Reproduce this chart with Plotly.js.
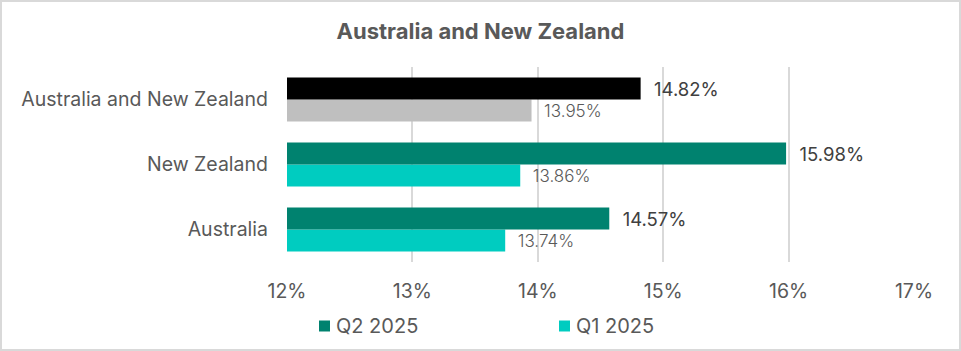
<!DOCTYPE html>
<html><head><meta charset="utf-8">
<script src="https://cdn.plot.ly/plotly-3.0.1.min.js"></script>
<style>
html,body{margin:0;padding:0;background:#fff;}
#wrap{position:relative;width:961px;height:351px;}
#chart{position:absolute;left:0;top:0;width:961px;height:351px;}
#border{position:absolute;left:0;top:0;width:961px;height:351px;box-sizing:border-box;border:2px solid #d9d9d9;pointer-events:none;}
</style></head>
<body><div id="wrap"><div id="chart"></div><div id="border"></div></div>
<script>
const categories = ["Australia", "New Zealand", "Australia and New Zealand"];
const q2Values = [14.57, 15.98, 14.82];
const q1Values = [13.74, 13.86, 13.95];
const q2Colors = ["#00826f", "#00826f", "#000000"];
const q1Colors = ["#00ccc0", "#00ccc0", "#bfbfbf"];
const seriesNames = ["Q2 2025", "Q1 2025"];
const legendColors = ["#00826f", "#00ccc0"];
const tickVals = [12, 13, 14, 15, 16, 17];
const tickText = ["12%", "13%", "14%", "15%", "16%", "17%"];

const font = "Inter, 'Noto Sans', sans-serif";

// plot area in pixels (for legend placement helpers)
const PL = 287, PR = 914, PT = 67, PB = 262;
const px = x => (x - PL) / (PR - PL);
const py = y => (PB - y) / (PB - PT);

const traces = [
  {
    type: "bar", orientation: "h", name: seriesNames[1],
    y: categories, x: q1Values,
    marker: {color: q1Colors},
    text: q1Values.map(v => "  " + v.toFixed(2) + "%"),
    textposition: "outside", cliponaxis: false,
    textfont: {family: font, size: 17, color: "#595959", weight: 300},
    hoverinfo: "none", showlegend: false
  },
  {
    type: "bar", orientation: "h", name: seriesNames[0],
    y: categories, x: q2Values,
    marker: {color: q2Colors},
    text: q2Values.map(v => "  " + v.toFixed(2) + "%"),
    textposition: "outside", cliponaxis: false,
    textfont: {family: font, size: 18.5, color: "#404040"},
    hoverinfo: "none", showlegend: false
  }
];

const legendX = [319, 559];
const shapes = legendX.map((x, i) => ({
  type: "rect", xref: "paper", yref: "paper",
  x0: px(x), x1: px(x + 11), y0: py(331.5), y1: py(320.5),
  fillcolor: legendColors[i], line: {width: 0}
}));
const annotations = legendX.map((x, i) => ({
  xref: "paper", yref: "paper", x: px(x + 15), y: py(326),
  xanchor: "left", yanchor: "middle", showarrow: false,
  text: seriesNames[i],
  font: {family: font, size: 20, color: "#595959"}
}));

const layout = {
  width: 961, height: 351,
  margin: {l: PL, r: 961 - PR, t: PT, b: 351 - PB, pad: 0},
  paper_bgcolor: "#ffffff", plot_bgcolor: "#ffffff",
  barmode: "group", bargap: 0.323, bargroupgap: 0,
  showlegend: false,
  title: {
    text: "<b>Australia and New Zealand</b>",
    font: {family: font, size: 22, color: "#595959"},
    x: 0.5, xanchor: "center", xref: "container",
    y: 1 - 31 / 351, yanchor: "middle", yref: "container"
  },
  xaxis: {
    range: [12, 17], tickvals: tickVals, ticktext: tickText,
    showgrid: true, gridcolor: "#d9d9d9", gridwidth: 2,
    zeroline: false, showline: false, ticks: "",
    tickfont: {family: font, size: 19.5, color: "#595959"},
    ticklabelstandoff: 15, fixedrange: true
  },
  yaxis: {
    type: "category", categoryorder: "array", categoryarray: categories,
    showgrid: false, zeroline: false, showline: false, ticks: "",
    tickfont: {family: font, size: 19.5, color: "#595959"},
    ticklabelstandoff: 18, fixedrange: true
  },
  shapes: shapes,
  annotations: annotations
};

Plotly.newPlot("chart", traces, layout, {displayModeBar: false, staticPlot: true});
</script></body></html>
